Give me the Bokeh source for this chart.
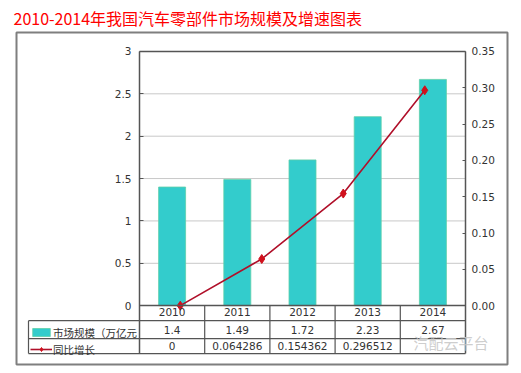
from bokeh.plotting import figure
from bokeh.models import (Range1d, LinearAxis, FixedTicker, ColumnDataSource,
                          Legend, LegendItem, Label)
from bokeh.core.properties import value
from bokeh.embed import file_html
from bokeh.resources import INLINE

# ---------------- data ----------------
title_text = "2010-2014年我国汽车零部件市场规模及增速图表"
years = ["2010", "2011", "2012", "2013", "2014"]
market = [1.4, 1.49, 1.72, 2.23, 2.67]               # 市场规模（万亿元）
market_labels = ["1.4", "1.49", "1.72", "2.23", "2.67"]
growth_years = ["2010", "2011", "2012", "2013"]
growth = [0, 0.064286, 0.154362, 0.296512]            # 同比增长
growth_labels = ["0", "0.064286", "0.154362", "0.296512", ""]
series_names = ["市场规模（万亿元", "同比增长"]
left_ticks = [0, 0.5, 1, 1.5, 2, 2.5, 3]
left_tick_labels = ["0", "0.5", "1", "1.5", "2", "2.5", "3"]
right_ticks = [0, 0.05, 0.10, 0.15, 0.20, 0.25, 0.30, 0.35]
right_tick_labels = ["0.00", "0.05", "0.10", "0.15", "0.20", "0.25", "0.30", "0.35"]
watermark = "汽配云平台"

# ---------------- layout (page pixels) ----------------
PAGE = 0
FRAME_L, FRAME_R, FRAME_T, FRAME_B = 16, 507, 31, 364
PLOT_L, PLOT_R, PLOT_T, PLOT_B = 139, 465, 50, 305
TABLE_L, ROW1_T, ROW2_T, TABLE_B = 28, 320, 338, 353
W, H = 513, 366

n = len(years)
LMAX, RMAX = left_ticks[-1], right_ticks[-1]
xppu = (PLOT_R - PLOT_L) / n
ylppu = (PLOT_B - PLOT_T) / LMAX
yrppu = (PLOT_B - PLOT_T) / RMAX


def px_x(px):
    return (px - PLOT_L) / xppu


def px_yl(py):
    return (PLOT_B - py) / ylppu


def px_yr(py):
    return (PLOT_B - py) / yrppu


x_range = Range1d(px_x(FRAME_L), px_x(FRAME_R))
y_range = Range1d(px_yl(FRAME_B), px_yl(FRAME_T))
ng = len(growth_years)
gx_range = Range1d(px_x(FRAME_L) * ng / n, px_x(FRAME_R) * ng / n)
gy_range = Range1d(px_yr(FRAME_B), px_yr(FRAME_T))

p = figure(width=W, height=H, output_backend="svg", toolbar_location=None,
           x_range=x_range, y_range=y_range, x_axis_type=None, y_axis_type=None,
           min_border_left=FRAME_L - PAGE, min_border_right=W - (FRAME_R - PAGE),
           min_border_top=FRAME_T - PAGE, min_border_bottom=H - (FRAME_B - PAGE),
           background_fill_color="white", border_fill_color="white")
p.extra_x_ranges = {"gx": gx_range}
p.extra_y_ranges = {"gy": gy_range}
p.grid.visible = False
p.outline_line_color = "#7f7f7f"
p.outline_line_width = 2

p.title.text = title_text
p.title.text_color = "#ff0000"
p.title.text_font = "Noto Sans CJK SC"
p.title.text_font_size = "16px"
p.title.text_font_style = "normal"
p.title.offset = -3
p.title.standoff = 6

TXT = "#333333"
FONT = "DejaVu Sans"
FS = "10.5px"
AX = "#555555"

# ---- grid lines and plot border ----
grid_y = left_ticks[1:-1]
p.segment(x0=[0] * len(grid_y), x1=[n] * len(grid_y), y0=grid_y, y1=grid_y,
          line_color="#c8c8c8", line_width=1)
p.segment(x0=[0], x1=[n], y0=[LMAX], y1=[LMAX], line_color=AX, line_width=1.5)

# ---- bars ----
src = ColumnDataSource(dict(x=[i + 0.5 for i in range(n)], top=market,
                            year=years, lab=market_labels, glab=growth_labels))
bars = p.vbar(x="x", top="top", width=27 / xppu, bottom=0, source=src,
              fill_color="#33cccc", line_color="#5fcfaa", line_width=0.8)

# ---- line ----
gsrc = ColumnDataSource(dict(x=[i + 0.5 for i in range(ng)], y=growth))
ln = p.line(x="x", y="y", source=gsrc, x_range_name="gx", y_range_name="gy",
            line_color="#b0102a", line_width=1.6)
pts = p.scatter(x="x", y="y", source=gsrc, x_range_name="gx", y_range_name="gy",
                marker="diamond", size=9, fill_color="#d0101c", line_color="#d0101c")

# ---- axes ----
yl = LinearAxis(fixed_location=0, ticker=FixedTicker(ticks=left_ticks),
                major_label_overrides=dict(zip(left_ticks, left_tick_labels)),
                bounds=(px_yl(TABLE_B), LMAX),
                axis_line_color=AX, axis_line_width=1.5,
                major_tick_in=4, major_tick_out=0, major_tick_line_color=AX,
                minor_tick_line_color=None, major_label_standoff=8,
                major_label_text_font=FONT, major_label_text_font_size=FS,
                major_label_text_color=TXT)
p.add_layout(yl, "left")

yr = LinearAxis(y_range_name="gy", fixed_location=n, ticker=FixedTicker(ticks=right_ticks),
                major_label_overrides=dict(zip(right_ticks, right_tick_labels)),
                bounds=(px_yr(TABLE_B), RMAX),
                axis_line_color=AX, axis_line_width=1.5,
                major_tick_in=3, major_tick_out=0, major_tick_line_color=AX,
                minor_tick_line_color=None, major_label_standoff=6,
                major_label_text_font=FONT, major_label_text_font_size=FS,
                major_label_text_color=TXT)
p.add_layout(yr, "right")

xticks = [i + 0.5 for i in range(n)]
xa = LinearAxis(fixed_location=0, ticker=FixedTicker(ticks=xticks),
                major_label_overrides=dict(zip(xticks, years)),
                bounds=(0, n), axis_line_color=AX, axis_line_width=1.5,
                major_tick_line_color=None, minor_tick_line_color=None,
                major_label_standoff=-4,
                major_label_text_font=FONT, major_label_text_font_size=FS,
                major_label_text_color=TXT)
p.add_layout(xa, "below")

# ---- data table ----
hy = [px_yl(ROW1_T), px_yl(ROW2_T), px_yl(TABLE_B)]
p.segment(x0=[px_x(TABLE_L)] * 3, x1=[n] * 3, y0=hy, y1=hy, line_color=AX, line_width=1.2)
p.segment(x0=[px_x(TABLE_L)], x1=[px_x(TABLE_L)], y0=[hy[0]], y1=[hy[2]],
          line_color=AX, line_width=1.2)
vx = list(range(1, n))
p.segment(x0=vx, x1=vx, y0=[0] * len(vx), y1=[hy[2]] * len(vx), line_color=AX, line_width=1.2)

p.text(x="x", y=(hy[0] + hy[1]) / 2, text="lab", source=src, text_align="center",
       text_baseline="middle", text_font=value(FONT), text_font_size=FS, text_color=TXT)
p.text(x="x", y=(hy[1] + hy[2]) / 2, text="glab", source=src, text_align="center",
       text_baseline="middle", text_font=value(FONT), text_font_size=FS, text_color=TXT)

legend = Legend(items=[LegendItem(label=series_names[0], renderers=[bars]),
                       LegendItem(label=series_names[1], renderers=[ln, pts])],
                location=(TABLE_L - FRAME_L + 2, FRAME_B - TABLE_B - 4),
                orientation="vertical", padding=0, margin=0, spacing=1,
                border_line_color=None, background_fill_alpha=0,
                glyph_width=22, glyph_height=10, label_height=16, label_standoff=1,
                label_text_font="Noto Sans CJK SC", label_text_font_size="10.5px",
                label_text_color=TXT)
p.add_layout(legend)

p.add_layout(Label(x=px_x(413), y=px_yl(342), text=watermark, text_baseline="middle",
                   text_font="Noto Sans CJK SC", text_font_size="15px",
                   text_color="#c8c8c8", text_alpha=0.9))

open("out.html", "w").write(file_html(p, INLINE))
